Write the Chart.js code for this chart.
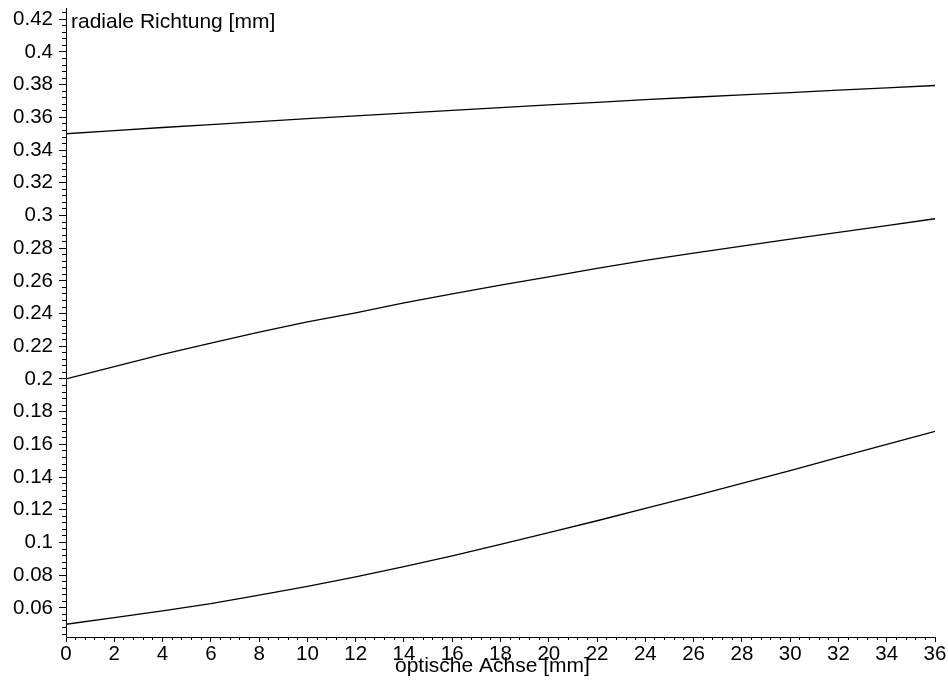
<!DOCTYPE html>
<html>
<head>
<meta charset="utf-8">
<script src="https://cdn.jsdelivr.net/npm/chart.js@4.4.1/dist/chart.umd.min.js"></script>
<style>
  html, body { margin: 0; padding: 0; background: #fff; }
  #wrap { width: 948px; height: 684px; position: relative; }
</style>
</head>
<body>
<div id="wrap"><canvas id="rayChart"></canvas></div>
<script>
// optische Achse [mm]
const zValues = [0, 2, 4, 6, 8, 10, 12, 14, 16, 18, 20, 22, 24, 26, 28, 30, 32, 34, 36];

// radiale Richtung [mm], one ray per array
const rayTop = [0.3500, 0.3519, 0.3538, 0.3556, 0.3574, 0.3592, 0.3609, 0.3626, 0.3643, 0.3660,
                0.3676, 0.3692, 0.3708, 0.3723, 0.3738, 0.3752, 0.3767, 0.3781, 0.3795];
const rayMiddle = [0.2000, 0.2076, 0.2150, 0.2220, 0.2286, 0.2349, 0.2405, 0.2466, 0.2521, 0.2574,
                   0.2625, 0.2677, 0.2726, 0.2770, 0.2813, 0.2855, 0.2897, 0.2938, 0.2980];
const rayBottom = [0.0500, 0.0540, 0.0582, 0.0626, 0.0678, 0.0732, 0.0790, 0.0852, 0.0918, 0.0988,
                   0.1060, 0.1133, 0.1208, 0.1284, 0.1362, 0.1440, 0.1520, 0.1600, 0.1680];

// tick labels
const xTicks = [0, 2, 4, 6, 8, 10, 12, 14, 16, 18, 20, 22, 24, 26, 28, 30, 32, 34, 36];
const yTicks = [0.06, 0.08, 0.1, 0.12, 0.14, 0.16, 0.18, 0.2, 0.22, 0.24,
                0.26, 0.28, 0.3, 0.32, 0.34, 0.36, 0.38, 0.4, 0.42];

const xTitle = 'optische Achse [mm]';
const yTitle = 'radiale Richtung [mm]';

// minor tick positions (5 per major step)
const xMinorTicks = [];
for (let i = 0; i <= 90; i++) xMinorTicks.push(+(i * 0.4).toFixed(1));
const yMinorTicks = [];
for (let i = 11; i <= 106; i++) yMinorTicks.push(+(i * 0.004).toFixed(3));

const FONT = "'Liberation Sans', Arial, Helvetica, sans-serif";

function toPoints(ys) {
    return zValues.map((z, i) => ({ x: z, y: ys[i] }));
}

function fixedTicks(list) {
    return scale => { scale.ticks = list.map(v => ({ value: v })); };
}

function fixSize(prop, size) {
    return scale => {
        scale[prop] = size;
        scale.paddingTop = 0;
        scale.paddingBottom = 0;
        scale.paddingLeft = 0;
        scale.paddingRight = 0;
    };
}

// axis titles sit inside the plot like in the original
const axisTitles = {
    id: 'axisTitles',
    afterDraw(chart) {
        const { ctx, chartArea } = chart;
        ctx.save();
        ctx.fillStyle = '#000';
        ctx.font = '21px ' + FONT;
        ctx.textBaseline = 'alphabetic';
        ctx.textAlign = 'left';
        ctx.fillText(yTitle, chartArea.left + 5, chartArea.top + 20);
        ctx.fillText(xTitle, 395, chartArea.bottom + 35);
        ctx.restore();
    }
};

const lineStyle = {
    borderColor: '#000',
    borderWidth: 1.3,
    pointRadius: 0,
    showLine: true,
    fill: false,
    tension: 0
};

new Chart(document.getElementById('rayChart'), {
    type: 'scatter',
    data: {
        datasets: [
            { label: 'r1', data: toPoints(rayTop), ...lineStyle },
            { label: 'r2', data: toPoints(rayMiddle), ...lineStyle },
            { label: 'r3', data: toPoints(rayBottom), ...lineStyle }
        ]
    },
    options: {
        responsive: true,
        maintainAspectRatio: false,
        animation: false,
        layout: { padding: { top: 8, right: 13, left: 0, bottom: 0 } },
        plugins: {
            legend: { display: false },
            tooltip: { enabled: false }
        },
        scales: {
            x: {
                type: 'linear',
                position: 'bottom',
                weight: 1,
                min: 0,
                max: 36,
                afterBuildTicks: fixedTicks(xTicks),
                afterFit: fixSize('height', 47),
                ticks: {
                    autoSkip: false,
                    maxRotation: 0,
                    padding: 0,
                    color: '#000',
                    font: { family: FONT, size: 20.5 },
                    callback: v => String(v)
                },
                grid: { drawOnChartArea: false, tickLength: 5, tickColor: '#000', tickWidth: 1 },
                border: { color: '#000', width: 1 }
            },
            xMinor: {
                type: 'linear',
                position: 'bottom',
                weight: 0,
                min: 0,
                max: 36,
                afterBuildTicks: fixedTicks(xMinorTicks),
                afterFit: fixSize('height', 0),
                ticks: { display: false, autoSkip: false },
                grid: { drawOnChartArea: false, tickLength: 3, tickColor: '#000', tickWidth: 1 },
                border: { color: '#000', width: 1 }
            },
            y: {
                type: 'linear',
                position: 'left',
                weight: 1,
                min: 0.0422,
                max: 0.4269,
                afterBuildTicks: fixedTicks(yTicks),
                afterFit: fixSize('width', 66),
                ticks: {
                    autoSkip: false,
                    padding: 6,
                    color: '#000',
                    font: { family: FONT, size: 20.5 },
                    callback: v => String(+v.toFixed(2))
                },
                grid: { drawOnChartArea: false, tickLength: 7, tickColor: '#000', tickWidth: 1 },
                border: { color: '#000', width: 1 }
            },
            yMinor: {
                type: 'linear',
                position: 'left',
                weight: 0,
                min: 0.0422,
                max: 0.4269,
                afterBuildTicks: fixedTicks(yMinorTicks),
                afterFit: fixSize('width', 0),
                ticks: { display: false, autoSkip: false },
                grid: { drawOnChartArea: false, tickLength: 4, tickColor: '#000', tickWidth: 1 },
                border: { color: '#000', width: 1 }
            }
        }
    },
    plugins: [axisTitles]
});
</script>
</body>
</html>
